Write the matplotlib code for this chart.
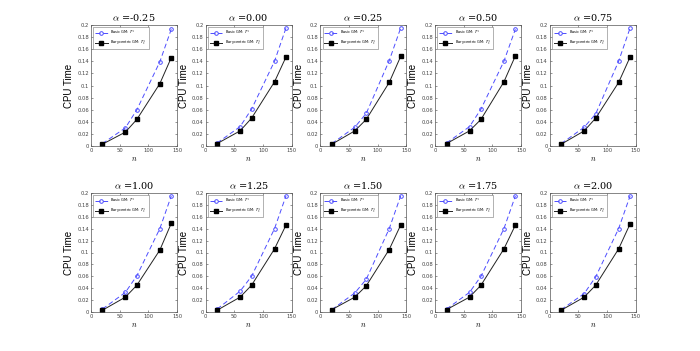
import matplotlib
matplotlib.use("Agg")
import matplotlib.pyplot as plt

plt.rcParams['mathtext.fontset'] = 'cm'

n_values = [20, 60, 80, 120, 140]
alphas = ["-0.25", "0.00", "0.25", "0.50", "0.75", "1.00", "1.25", "1.50", "1.75", "2.00"]

basic_cpu = [
    [0.004, 0.030, 0.060, 0.139, 0.193],
    [0.005, 0.032, 0.061, 0.140, 0.195],
    [0.004, 0.031, 0.054, 0.141, 0.195],
    [0.005, 0.032, 0.061, 0.140, 0.193],
    [0.004, 0.031, 0.053, 0.140, 0.195],
    [0.005, 0.033, 0.061, 0.140, 0.195],
    [0.005, 0.035, 0.060, 0.140, 0.195],
    [0.004, 0.032, 0.055, 0.140, 0.195],
    [0.005, 0.033, 0.060, 0.140, 0.195],
    [0.004, 0.031, 0.059, 0.140, 0.195],
]
bary_cpu = [
    [0.003, 0.023, 0.044, 0.103, 0.146],
    [0.004, 0.025, 0.046, 0.106, 0.147],
    [0.003, 0.025, 0.044, 0.105, 0.148],
    [0.004, 0.025, 0.044, 0.106, 0.149],
    [0.003, 0.025, 0.046, 0.105, 0.147],
    [0.003, 0.025, 0.045, 0.104, 0.149],
    [0.003, 0.025, 0.045, 0.106, 0.146],
    [0.004, 0.025, 0.044, 0.105, 0.146],
    [0.004, 0.025, 0.045, 0.106, 0.146],
    [0.003, 0.025, 0.045, 0.106, 0.148],
]
x_ticks = [0, 50, 100, 150]
y_ticks = [0, 0.02, 0.04, 0.06, 0.08, 0.1, 0.12, 0.14, 0.16, 0.18, 0.2]
y_ticklabels = ["0", "0.02", "0.04", "0.06", "0.08", "0.1", "0.12", "0.14", "0.16", "0.18", "0.2"]

fig = plt.figure(figsize=(7.0, 3.51), dpi=100)
W, H = 700, 351
ax_w = 86
pitch = 114.7
rows = [(25, 146), (193, 312)]
blue = (0.3, 0.3, 1.0)

for i, a in enumerate(alphas):
    r, c = divmod(i, 5)
    top, bot = rows[r]
    left = 91 + c * pitch
    ax = fig.add_axes([left / W, 1 - bot / H, ax_w / W, (bot - top) / H])
    ax.plot(n_values, basic_cpu[i], linestyle=(0, (5, 3)), color=blue, lw=0.7,
            marker='o', ms=2.6, mfc='none', mec=blue, mew=0.7,
            label=r'Basic GM: $\mathbb{P}^1$')
    ax.plot(n_values, bary_cpu[i], linestyle='-', color='#222222', lw=0.7,
            marker='s', ms=2.2, mfc='black', mec='black',
            label=r'Barycentric GM: $\mathbb{P}_0^1$')
    ax.set_xlim(0, 150)
    ax.set_ylim(0, 0.2)
    ax.set_xticks(x_ticks)
    ax.set_yticks(y_ticks)
    ax.set_yticklabels(y_ticklabels)
    ax.tick_params(labelsize=3.8, length=1.5, width=0.4, direction='in', top=True, right=True, pad=1.5, colors='#444444')
    for s in ax.spines.values():
        s.set_linewidth(0.5)
        s.set_color('#555555')
    ax.set_title(r'$\alpha$ =' + a, fontsize=7, family='serif', pad=3)
    ax.set_xlabel(r'$n$', fontsize=5.5, labelpad=1)
    ax.set_ylabel('CPU Time', fontsize=7, labelpad=2, family='Liberation Sans')
    leg = ax.legend(loc='upper left', fontsize=2.6, frameon=True, fancybox=False, edgecolor='#555555',
                    handlelength=3.5, borderpad=0.5, labelspacing=0.5, borderaxespad=0.6)
    leg.get_frame().set_linewidth(0.4)

fig.savefig("out.png", dpi=100)
